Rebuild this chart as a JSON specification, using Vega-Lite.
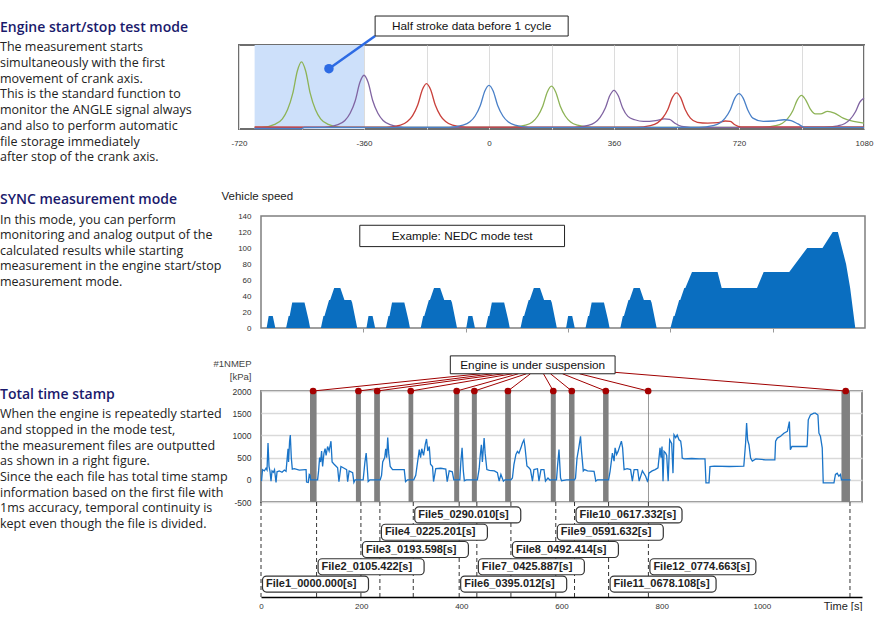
{
"$schema": "https://vega.github.io/schema/vega-lite/v6.json",
"padding": {"top": 14, "left": 0, "right": 0, "bottom": 0},
"spacing": 25,
"config": {"view": {"stroke": null}, "concat": {"spacing": 0}, "axis": {"labelFont": "Liberation Sans", "titleFont": "Liberation Sans", "labelOverlap": false, "labelFlush": false}},
"vconcat": [
{"hconcat": [
 {"width": 239, "height": 84,
  "data": {"values": [
   {"k": "h", "line": 0, "text": "Engine start/stop test mode"},
   {"k": "b", "line": 1, "text": "The measurement starts"},
   {"k": "b", "line": 2, "text": "simultaneously with the first"},
   {"k": "b", "line": 3, "text": "movement of crank axis."},
   {"k": "b", "line": 4, "text": "This is the standard function to"},
   {"k": "b", "line": 5, "text": "monitor the ANGLE signal always"},
   {"k": "b", "line": 6, "text": "and also to perform automatic"},
   {"k": "b", "line": 7, "text": "file storage immediately"},
   {"k": "b", "line": 8, "text": "after stop of the crank axis."}]},
  "encoding": {"x": {"value": 0}, "y": {"field": "line", "type": "quantitative", "scale": {"domain": [0.853, 6.203], "reverse": true, "zero": false, "nice": false}, "axis": null}, "text": {"field": "text", "type": "nominal"}},
  "layer": [
   {"transform": [{"filter": "datum.k == 'h'"}], "mark": {"type": "text", "align": "left", "baseline": "middle", "dy": -3.9, "font": "Open Sans", "fontSize": 14, "fontWeight": 600, "color": "#1a1a6c"}},
   {"transform": [{"filter": "datum.k == 'b'"}], "mark": {"type": "text", "align": "left", "baseline": "middle", "font": "Open Sans", "fontSize": 12.5, "color": "#222222"}}
  ]},
 {"width": 625, "height": 84,
  "view": {"stroke": "#6e6e6e", "strokeWidth": 2},
  "layer": [
   {"data": {"values": [{"x0": -675, "x1": -360, "y0": 0, "y1": 100}]},
    "mark": {"type": "rect", "color": "#cde0fa"},
    "encoding": {
     "x": {"field": "x0", "type": "quantitative", "scale": {"domain": [-720, 1080], "nice": false, "zero": false},
       "axis": {"values": [-720, -540, -360, -180, 0, 180, 360, 540, 720, 900, 1080], "tickCount": 30, "labelExpr": "datum.value % 360 === 0 ? '' + datum.value : ''", "labelOverlap": false, "grid": true, "gridColor": "#dcdcdc", "ticks": false, "domain": false, "labelFontSize": 8, "labelColor": "#333333", "labelPadding": 10, "title": null}},
     "x2": {"field": "x1"},
     "y": {"field": "y0", "type": "quantitative", "scale": {"domain": [0, 100], "nice": false, "zero": false}, "axis": null},
     "y2": {"field": "y1"}}},
   {"data": {"values": [
    {"c":"A","x":-675,"v":2},{"c":"A","x":-655,"v":2},{"c":"A","x":-615,"v":5.9},{"c":"A","x":-595,"v":12.1},{"c":"A","x":-580,"v":23.1},{"c":"A","x":-565,"v":42.6},{"c":"A","x":-552,"v":69.1},{"c":"A","x":-540,"v":80},{"c":"A","x":-528,"v":69.1},{"c":"A","x":-515,"v":42.6},{"c":"A","x":-500,"v":23.1},{"c":"A","x":-485,"v":12.1},{"c":"A","x":-465,"v":5.9},{"c":"A","x":-425,"v":2},{"c":"A","x":65,"v":2},{"c":"A","x":105,"v":4.5},{"c":"A","x":125,"v":8.4},{"c":"A","x":140,"v":15.2},{"c":"A","x":155,"v":27.5},{"c":"A","x":168,"v":44.1},{"c":"A","x":180,"v":51},{"c":"A","x":192,"v":44.1},{"c":"A","x":205,"v":27.5},{"c":"A","x":220,"v":15.2},{"c":"A","x":235,"v":8.4},{"c":"A","x":255,"v":4.5},{"c":"A","x":295,"v":2},{"c":"A","x":785,"v":2},{"c":"A","x":825,"v":3.9},{"c":"A","x":845,"v":6.9},{"c":"A","x":860,"v":12.3},{"c":"A","x":875,"v":21.8},{"c":"A","x":888,"v":34.7},{"c":"A","x":900,"v":40},{"c":"A","x":912,"v":34.7},{"c":"A","x":925,"v":24},{"c":"A","x":940,"v":18},{"c":"A","x":955,"v":18},{"c":"A","x":975,"v":21},{"c":"A","x":995,"v":19},{"c":"A","x":1020,"v":13},{"c":"A","x":1050,"v":9},{"c":"A","x":1080,"v":7},
    {"c":"B","x":-675,"v":1.5},{"c":"B","x":-475,"v":2},{"c":"B","x":-435,"v":5.1},{"c":"B","x":-415,"v":10.1},{"c":"B","x":-400,"v":18.7},{"c":"B","x":-385,"v":34},{"c":"B","x":-372,"v":55.3},{"c":"B","x":-360,"v":64},{"c":"B","x":-348,"v":55.3},{"c":"B","x":-335,"v":34},{"c":"B","x":-320,"v":18.7},{"c":"B","x":-305,"v":10.1},{"c":"B","x":-285,"v":5.1},{"c":"B","x":-245,"v":2},{"c":"B","x":245,"v":2},{"c":"B","x":285,"v":4.2},{"c":"B","x":305,"v":7.7},{"c":"B","x":320,"v":13.9},{"c":"B","x":335,"v":24.9},{"c":"B","x":348,"v":39.8},{"c":"B","x":360,"v":46},{"c":"B","x":372,"v":39.8},{"c":"B","x":385,"v":25},{"c":"B","x":400,"v":15},{"c":"B","x":420,"v":11},{"c":"B","x":445,"v":9},{"c":"B","x":480,"v":10},{"c":"B","x":505,"v":12},{"c":"B","x":520,"v":11.5},{"c":"B","x":535,"v":7},{"c":"B","x":555,"v":3},{"c":"B","x":580,"v":2},{"c":"B","x":965,"v":2},{"c":"B","x":1005,"v":3.8},{"c":"B","x":1025,"v":6.6},{"c":"B","x":1040,"v":11.5},{"c":"B","x":1055,"v":20.2},{"c":"B","x":1068,"v":32},{"c":"B","x":1080,"v":37},
    {"c":"C","x":-675,"v":2.5},{"c":"C","x":-295,"v":2.2},{"c":"C","x":-255,"v":4.6},{"c":"C","x":-235,"v":8.8},{"c":"C","x":-220,"v":16},{"c":"C","x":-205,"v":28.9},{"c":"C","x":-192,"v":46.7},{"c":"C","x":-180,"v":54},{"c":"C","x":-168,"v":46.7},{"c":"C","x":-155,"v":28.9},{"c":"C","x":-140,"v":16},{"c":"C","x":-125,"v":8.8},{"c":"C","x":-105,"v":4.6},{"c":"C","x":-65,"v":2.2},{"c":"C","x":425,"v":2.2},{"c":"C","x":465,"v":4.1},{"c":"C","x":485,"v":7.3},{"c":"C","x":500,"v":13.1},{"c":"C","x":515,"v":23.3},{"c":"C","x":528,"v":37.3},{"c":"C","x":540,"v":43},{"c":"C","x":552,"v":37.3},{"c":"C","x":565,"v":23.3},{"c":"C","x":580,"v":13},{"c":"C","x":600,"v":8},{"c":"C","x":630,"v":7},{"c":"C","x":660,"v":7.5},{"c":"C","x":680,"v":9.5},{"c":"C","x":695,"v":9},{"c":"C","x":708,"v":5},{"c":"C","x":725,"v":2.5},{"c":"C","x":1080,"v":2.5},
    {"c":"D","x":-675,"v":0.5},{"c":"D","x":-540,"v":0.5},{"c":"D","x":-532,"v":2},{"c":"D","x":-115,"v":2},{"c":"D","x":-75,"v":4.5},{"c":"D","x":-55,"v":8.5},{"c":"D","x":-40,"v":15.5},{"c":"D","x":-25,"v":28},{"c":"D","x":-12,"v":45.3},{"c":"D","x":0,"v":52},{"c":"D","x":12,"v":45.3},{"c":"D","x":25,"v":28},{"c":"D","x":40,"v":15.5},{"c":"D","x":55,"v":8.5},{"c":"D","x":75,"v":4.5},{"c":"D","x":115,"v":2},{"c":"D","x":605,"v":2},{"c":"D","x":645,"v":4},{"c":"D","x":665,"v":7.2},{"c":"D","x":680,"v":13},{"c":"D","x":695,"v":23},{"c":"D","x":708,"v":36.8},{"c":"D","x":720,"v":42},{"c":"D","x":732,"v":36.8},{"c":"D","x":745,"v":23},{"c":"D","x":760,"v":13},{"c":"D","x":790,"v":9},{"c":"D","x":820,"v":9.5},{"c":"D","x":850,"v":11},{"c":"D","x":870,"v":10},{"c":"D","x":890,"v":6},{"c":"D","x":910,"v":2},{"c":"D","x":1080,"v":2}]},
    "mark": {"type": "line", "interpolate": "monotone", "strokeWidth": 1.3},
    "encoding": {
     "x": {"field": "x", "type": "quantitative", "scale": {"domain": [-720, 1080], "nice": false, "zero": false}},
     "y": {"field": "v", "type": "quantitative", "scale": {"domain": [0, 100], "nice": false, "zero": false}, "axis": null},
     "color": {"field": "c", "type": "nominal", "scale": {"domain": ["A", "B", "C", "D"], "range": ["#8db356", "#8064a2", "#c9403b", "#4a80c8"]}, "legend": null}}},
   {"data": {"values": [{"x": -461, "v": 71.8}, {"x": -328, "v": 110.7}]},
    "mark": {"type": "line", "color": "#2d6be4", "strokeWidth": 2.5},
    "encoding": {
     "x": {"field": "x", "type": "quantitative", "scale": {"domain": [-720, 1080], "nice": false, "zero": false}},
     "y": {"field": "v", "type": "quantitative", "scale": {"domain": [0, 100], "nice": false, "zero": false}, "axis": null}}},
   {"data": {"values": [{"x": -461, "v": 71.8}]},
    "mark": {"type": "point", "filled": true, "opacity": 1, "size": 90, "color": "#2d6be4"},
    "encoding": {
     "x": {"field": "x", "type": "quantitative", "scale": {"domain": [-720, 1080], "nice": false, "zero": false}},
     "y": {"field": "v", "type": "quantitative", "scale": {"domain": [0, 100], "nice": false, "zero": false}, "axis": null}}},
   {"data": {"values": [{"x0": -328, "x1": 228, "y0": 110.7, "y1": 134.5}]},
    "mark": {"type": "rect", "fill": "#ffffff", "stroke": "#222222", "strokeWidth": 1},
    "encoding": {
     "x": {"field": "x0", "type": "quantitative", "scale": {"domain": [-720, 1080], "nice": false, "zero": false}},
     "x2": {"field": "x1"},
     "y": {"field": "y0", "type": "quantitative", "scale": {"domain": [0, 100], "nice": false, "zero": false}, "axis": null},
     "y2": {"field": "y1"}}},
   {"data": {"values": [{"xc": -50, "yc": 122.6, "label": "Half stroke data before 1 cycle"}]},
    "mark": {"type": "text", "font": "Liberation Sans", "fontSize": 11.8, "color": "#111111", "baseline": "middle"},
    "encoding": {
     "x": {"field": "xc", "type": "quantitative", "scale": {"domain": [-720, 1080], "nice": false, "zero": false}},
     "y": {"field": "yc", "type": "quantitative", "scale": {"domain": [0, 100], "nice": false, "zero": false}, "axis": null},
     "text": {"field": "label", "type": "nominal"}}}
  ]}
], "bounds": "flush", "spacing": 0},
{"concat": [
 {"width": 261, "height": 175,
  "data": {"values": [
   {"k": "h", "line": 0, "text": "SYNC measurement mode"},
   {"k": "b", "line": 1, "text": "In this mode, you can perform"},
   {"k": "b", "line": 2, "text": "monitoring and analog output of the"},
   {"k": "b", "line": 3, "text": "calculated results while starting"},
   {"k": "b", "line": 4, "text": "measurement in the engine start/stop"},
   {"k": "b", "line": 5, "text": "measurement mode."}]},
  "encoding": {"x": {"value": 0}, "y": {"field": "line", "type": "quantitative", "scale": {"domain": [0.755, 12.045], "reverse": true, "zero": false, "nice": false}, "axis": null}, "text": {"field": "text", "type": "nominal"}},
  "layer": [
   {"transform": [{"filter": "datum.k == 'h'"}], "mark": {"type": "text", "align": "left", "baseline": "middle", "dy": -4.6, "font": "Open Sans", "fontSize": 14, "fontWeight": 600, "color": "#1a1a6c"}},
   {"transform": [{"filter": "datum.k == 'b'"}], "mark": {"type": "text", "align": "left", "baseline": "middle", "font": "Open Sans", "fontSize": 12.5, "color": "#222222"}}
  ]},
 {"width": 604, "height": 112,
  "view": {"stroke": "#7f7f7f", "strokeWidth": 1.5},
  "layer": [
   {"data": {"values": [
    {"t":0,"v":0},{"t":11,"v":0},{"t":15,"v":15},{"t":23,"v":15},{"t":28,"v":0},{"t":49,"v":0},{"t":54,"v":15},{"t":56,"v":15},{"t":61,"v":32},{"t":85,"v":32},{"t":93,"v":10},{"t":96,"v":0},{"t":117,"v":0},{"t":122,"v":15},{"t":124,"v":15},{"t":133,"v":35},{"t":135,"v":35},{"t":143,"v":50},{"t":155,"v":50},{"t":163,"v":35},{"t":176,"v":35},{"t":178,"v":32},{"t":188,"v":0},{"t":195,"v":0},
    {"t":206,"v":0},{"t":210,"v":15},{"t":218,"v":15},{"t":223,"v":0},{"t":244,"v":0},{"t":249,"v":15},{"t":251,"v":15},{"t":256,"v":32},{"t":280,"v":32},{"t":288,"v":10},{"t":291,"v":0},{"t":312,"v":0},{"t":317,"v":15},{"t":319,"v":15},{"t":328,"v":35},{"t":330,"v":35},{"t":338,"v":50},{"t":350,"v":50},{"t":358,"v":35},{"t":371,"v":35},{"t":373,"v":32},{"t":383,"v":0},{"t":390,"v":0},
    {"t":401,"v":0},{"t":405,"v":15},{"t":413,"v":15},{"t":418,"v":0},{"t":439,"v":0},{"t":444,"v":15},{"t":446,"v":15},{"t":451,"v":32},{"t":475,"v":32},{"t":483,"v":10},{"t":486,"v":0},{"t":507,"v":0},{"t":512,"v":15},{"t":514,"v":15},{"t":523,"v":35},{"t":525,"v":35},{"t":533,"v":50},{"t":545,"v":50},{"t":553,"v":35},{"t":566,"v":35},{"t":568,"v":32},{"t":578,"v":0},{"t":585,"v":0},
    {"t":596,"v":0},{"t":600,"v":15},{"t":608,"v":15},{"t":613,"v":0},{"t":634,"v":0},{"t":639,"v":15},{"t":641,"v":15},{"t":646,"v":32},{"t":670,"v":32},{"t":678,"v":10},{"t":681,"v":0},{"t":702,"v":0},{"t":707,"v":15},{"t":709,"v":15},{"t":718,"v":35},{"t":720,"v":35},{"t":728,"v":50},{"t":740,"v":50},{"t":748,"v":35},{"t":761,"v":35},{"t":763,"v":32},{"t":773,"v":0},{"t":780,"v":0},
    {"t":800,"v":0},{"t":806,"v":15},{"t":808,"v":15},{"t":817,"v":35},{"t":819,"v":35},{"t":827,"v":50},{"t":829,"v":50},{"t":842,"v":70},{"t":892,"v":70},{"t":900,"v":50},{"t":969,"v":50},{"t":982,"v":70},{"t":1032,"v":70},{"t":1067,"v":100},{"t":1097,"v":100},{"t":1117,"v":120},{"t":1127,"v":120},{"t":1143,"v":80},{"t":1151,"v":50},{"t":1161,"v":0},{"t":1180,"v":0}]},
    "mark": {"type": "area", "color": "#0a6ec0", "opacity": 1},
    "encoding": {
     "x": {"field": "t", "type": "quantitative", "scale": {"domain": [0, 1180], "nice": false, "zero": false},
       "axis": {"values": [200, 400, 600, 800, 1000], "tickCount": 30, "labels": false, "domain": false, "grid": false, "ticks": true, "tickSize": 4, "tickColor": "#999999", "title": null}},
     "y": {"field": "v", "type": "quantitative", "scale": {"domain": [0, 140], "nice": false, "zero": false},
       "axis": {"values": [0, 20, 40, 60, 80, 100, 120, 140], "tickCount": 30, "labelOverlap": false, "grid": false, "domain": false, "ticks": false, "labelFontSize": 8, "labelPadding": 10, "labelColor": "#333333",
        "title": "Vehicle speed", "titleAngle": 0, "titleAlign": "left", "titleBaseline": "middle", "titleX": -40, "titleY": -20, "titleFontSize": 11.5, "titleFontWeight": "normal", "titleColor": "#222222"}}}},
   {"data": {"values": [{"x0": 193, "x1": 593, "y0": 101.75, "y1": 128.4}]},
    "mark": {"type": "rect", "fill": "#ffffff", "stroke": "#222222", "strokeWidth": 1},
    "encoding": {
     "x": {"field": "x0", "type": "quantitative", "scale": {"domain": [0, 1180], "nice": false, "zero": false}},
     "x2": {"field": "x1"},
     "y": {"field": "y0", "type": "quantitative", "scale": {"domain": [0, 140], "nice": false, "zero": false}},
     "y2": {"field": "y1"}}},
   {"data": {"values": [{"xc": 393, "yc": 115, "label": "Example: NEDC mode test"}]},
    "mark": {"type": "text", "font": "Liberation Sans", "fontSize": 11.8, "color": "#111111", "baseline": "middle"},
    "encoding": {
     "x": {"field": "xc", "type": "quantitative", "scale": {"domain": [0, 1180], "nice": false, "zero": false}},
     "y": {"field": "yc", "type": "quantitative", "scale": {"domain": [0, 140], "nice": false, "zero": false}},
     "text": {"field": "label", "type": "nominal"}}}
  ]},
 {"width": 260, "height": 111,
  "data": {"values": [
   {"k": "h", "line": 0, "text": "Total time stamp"},
   {"k": "b", "line": 1, "text": "When the engine is repeatedly started"},
   {"k": "b", "line": 2, "text": "and stopped in the mode test,"},
   {"k": "b", "line": 3, "text": "the measurement files are outputted"},
   {"k": "b", "line": 4, "text": "as shown in a right figure."},
   {"k": "b", "line": 5, "text": "Since the each file has total time stamp"},
   {"k": "b", "line": 6, "text": "information based on the first file with"},
   {"k": "b", "line": 7, "text": "1ms accuracy, temporal continuity is"},
   {"k": "b", "line": 8, "text": "kept even though the file is divided."}]},
  "encoding": {"x": {"value": 0}, "y": {"field": "line", "type": "quantitative", "scale": {"domain": [-0.487, 6.597], "reverse": true, "zero": false, "nice": false}, "axis": null}, "text": {"field": "text", "type": "nominal"}},
  "layer": [
   {"transform": [{"filter": "datum.k == 'h'"}], "mark": {"type": "text", "align": "left", "baseline": "middle", "dy": -3.6, "font": "Open Sans", "fontSize": 14, "fontWeight": 600, "color": "#1a1a6c"}},
   {"transform": [{"filter": "datum.k == 'b'"}], "mark": {"type": "text", "align": "left", "baseline": "middle", "font": "Open Sans", "fontSize": 12.5, "color": "#222222"}}
  ]},
 {"width": 601, "height": 111,
  "view": {"stroke": "#8c8c8c", "strokeWidth": 2},
  "layer": [
   {"data": {"values": [{"s":97.8,"e":111,"lo":-500,"hi":2000},{"s":189.5,"e":199.5,"lo":-500,"hi":2000},{"s":226,"e":237.4,"lo":-500,"hi":2000},{"s":294.6,"e":304,"lo":-500,"hi":2000},{"s":385.7,"e":395.7,"lo":-500,"hi":2000},{"s":421,"e":431,"lo":-500,"hi":2000},{"s":487.5,"e":499,"lo":-500,"hi":2000},{"s":578.6,"e":588.6,"lo":-500,"hi":2000},{"s":615,"e":626,"lo":-500,"hi":2000},{"s":683,"e":694,"lo":-500,"hi":2000},{"s":772.7,"e":774.3,"lo":-500,"hi":2000},{"s":1159,"e":1176,"lo":-500,"hi":2000}]},
    "mark": {"type": "rect", "color": "#808080", "opacity": 1},
    "encoding": {
     "x": {"field": "s", "type": "quantitative", "scale": {"domain": [0, 1200], "nice": false, "zero": false}, "axis": null},
     "x2": {"field": "e"},
     "y": {"field": "hi", "type": "quantitative", "scale": {"domain": [-500, 2000], "nice": false, "zero": false}},
     "y2": {"field": "lo"}}},
   {"data": {"values": [
    {"t":1,"p":-30},{"t":3,"p":230},{"t":6.7,"p":200},{"t":10,"p":260},{"t":12,"p":220},{"t":14,"p":830},{"t":16,"p":300},{"t":18,"p":190},{"t":20,"p":-30},{"t":22,"p":200},{"t":24.6,"p":170},{"t":27,"p":230},{"t":30,"p":-60},{"t":32,"p":180},{"t":36.6,"p":200},{"t":42,"p":170},{"t":46.6,"p":220},{"t":50,"p":190},{"t":52,"p":450},{"t":54,"p":700},{"t":55,"p":400},{"t":57,"p":850},{"t":58.5,"p":1010},{"t":60.5,"p":500},{"t":62.5,"p":240},{"t":66.5,"p":250},{"t":76.5,"p":220},{"t":88.5,"p":230},{"t":90,"p":230},{"t":91,"p":-50},{"t":94.4,"p":-60},{"t":96.4,"p":120},{"t":98,"p":100},{"t":99,"p":0},{"t":113,"p":0},
    {"t":115,"p":200},{"t":117,"p":500},{"t":119,"p":400},{"t":121,"p":650},{"t":123,"p":300},{"t":125.7,"p":600},{"t":128,"p":700},{"t":130,"p":550},{"t":133,"p":750},{"t":136,"p":650},{"t":139.7,"p":870},{"t":142,"p":400},{"t":146,"p":350},{"t":153,"p":270},{"t":155.6,"p":-40},{"t":159.6,"p":300},{"t":166,"p":260},{"t":171,"p":230},{"t":173,"p":-40},{"t":176,"p":200},{"t":183,"p":160},{"t":185.5,"p":-60},{"t":188,"p":0},{"t":200,"p":0},
    {"t":204,"p":0},{"t":207.5,"p":400},{"t":210,"p":600},{"t":212,"p":300},{"t":214,"p":-40},{"t":217.5,"p":0},{"t":238,"p":0},
    {"t":240.7,"p":100},{"t":243,"p":400},{"t":247,"p":500},{"t":249,"p":700},{"t":251,"p":500},{"t":253,"p":950},{"t":255,"p":600},{"t":258,"p":300},{"t":262.7,"p":230},{"t":272.7,"p":230},{"t":286,"p":230},{"t":288.6,"p":-40},{"t":292.6,"p":0},{"t":305,"p":0},
    {"t":309,"p":100},{"t":312.6,"p":400},{"t":316,"p":680},{"t":318.6,"p":500},{"t":321,"p":700},{"t":324.6,"p":550},{"t":328,"p":800},{"t":330.5,"p":920},{"t":333,"p":650},{"t":336,"p":750},{"t":338.5,"p":350},{"t":342.5,"p":300},{"t":344.5,"p":-40},{"t":349,"p":250},{"t":359,"p":260},{"t":369,"p":240},{"t":371.8,"p":-40},{"t":375.8,"p":200},{"t":382,"p":180},{"t":385,"p":0},{"t":396,"p":0},
    {"t":397,"p":0},{"t":399,"p":400},{"t":401.5,"p":720},{"t":404,"p":200},{"t":406,"p":-20},{"t":410,"p":0},{"t":431,"p":0},
    {"t":432,"p":0},{"t":435.6,"p":250},{"t":437.6,"p":530},{"t":440,"p":790},{"t":442,"p":400},{"t":445.5,"p":940},{"t":447.5,"p":600},{"t":451,"p":230},{"t":456,"p":210},{"t":466,"p":200},{"t":472,"p":160},{"t":475.5,"p":-30},{"t":479,"p":120},{"t":484,"p":-30},{"t":487,"p":0},{"t":499,"p":0},
    {"t":502,"p":40},{"t":505,"p":340},{"t":509,"p":570},{"t":512,"p":640},{"t":515,"p":600},{"t":519,"p":720},{"t":522,"p":830},{"t":525,"p":900},{"t":527,"p":750},{"t":531,"p":310},{"t":535,"p":270},{"t":538,"p":230},{"t":542,"p":-30},{"t":545,"p":230},{"t":552,"p":250},{"t":555,"p":-30},{"t":559,"p":230},{"t":565,"p":230},{"t":568,"p":-30},{"t":573,"p":40},{"t":577,"p":-10},{"t":579,"p":0},{"t":589,"p":0},
    {"t":590,"p":0},{"t":592,"p":300},{"t":595,"p":680},{"t":598,"p":50},{"t":600,"p":-20},{"t":610,"p":0},{"t":626,"p":0},
    {"t":628,"p":40},{"t":631,"p":490},{"t":634.5,"p":720},{"t":638,"p":980},{"t":640,"p":640},{"t":643.5,"p":200},{"t":646,"p":230},{"t":652,"p":200},{"t":665,"p":190},{"t":668.5,"p":-30},{"t":672,"p":0},{"t":694,"p":0},
    {"t":697,"p":190},{"t":701.6,"p":600},{"t":705,"p":420},{"t":707,"p":720},{"t":710,"p":570},{"t":713,"p":640},{"t":717,"p":780},{"t":719.6,"p":870},{"t":722,"p":720},{"t":725,"p":230},{"t":731,"p":250},{"t":738,"p":230},{"t":741.5,"p":-30},{"t":745,"p":230},{"t":752,"p":230},{"t":755,"p":-30},{"t":761.5,"p":200},{"t":768,"p":80},{"t":771.5,"p":-30},{"t":773,"p":0},
    {"t":774.5,"p":150},{"t":781,"p":200},{"t":787,"p":230},{"t":792.7,"p":270},{"t":796.7,"p":720},{"t":798.7,"p":500},{"t":800.7,"p":750},{"t":802.7,"p":-30},{"t":804.7,"p":640},{"t":808,"p":600},{"t":810,"p":550},{"t":813,"p":-30},{"t":816,"p":900},{"t":820,"p":820},{"t":822.6,"p":150},{"t":824.6,"p":1015},{"t":828,"p":950},{"t":831,"p":1010},{"t":834.6,"p":900},{"t":838,"p":870},{"t":840,"p":700},{"t":841,"p":490},{"t":845,"p":470},{"t":860,"p":480},{"t":875,"p":470},{"t":886.5,"p":470},{"t":888.5,"p":-70},{"t":894.5,"p":-70},{"t":896.5,"p":300},{"t":905,"p":310},{"t":935,"p":300},{"t":964,"p":310},{"t":967.6,"p":830},{"t":969.6,"p":1280},{"t":971.6,"p":900},{"t":974.3,"p":790},{"t":977.6,"p":490},{"t":981,"p":420},{"t":988,"p":470},{"t":1007,"p":450},{"t":1026,"p":450},{"t":1027.5,"p":870},{"t":1031,"p":940},{"t":1037.5,"p":980},{"t":1044,"p":1050},{"t":1051,"p":1090},{"t":1055,"p":1310},{"t":1057,"p":680},{"t":1060,"p":750},{"t":1071,"p":750},{"t":1090,"p":750},{"t":1090.6,"p":790},{"t":1092.7,"p":1350},{"t":1097,"p":1460},{"t":1104,"p":1500},{"t":1107,"p":1500},{"t":1112,"p":1460},{"t":1114,"p":1050},{"t":1117,"p":980},{"t":1120.6,"p":720},{"t":1122.6,"p":-70},{"t":1134,"p":-70},{"t":1144,"p":-70},{"t":1147,"p":120},{"t":1150.5,"p":150},{"t":1153.8,"p":80},{"t":1157,"p":120},{"t":1159,"p":0},{"t":1177,"p":0}]},
    "mark": {"type": "line", "color": "#1a74c8", "strokeWidth": 1.3},
    "encoding": {
     "x": {"field": "t", "type": "quantitative", "scale": {"domain": [0, 1200], "nice": false, "zero": false}, "axis": null},
     "y": {"field": "p", "type": "quantitative", "scale": {"domain": [-500, 2000], "nice": false, "zero": false},
       "axis": {"values": [-500, 0, 500, 1000, 1500, 2000], "tickCount": 30, "labelExpr": "'' + datum.value", "labelOverlap": false, "grid": true, "gridColor": "#d9d9d9", "gridWidth": 1.5, "domain": false, "ticks": false, "labelFontSize": 8.5, "labelColor": "#333333", "labelPadding": 10,
        "title": ["#1NMEP", "[kPa]"], "titleAngle": 0, "titleAlign": "right", "titleBaseline": "middle", "titleX": -10, "titleY": -28, "titleFontSize": 9.5, "titleLineHeight": 13.3, "titleFontWeight": "normal", "titleColor": "#444444"}}}},
   {"data": {"values": [{"t":104,"p":2000,"te":438,"pe":2388},{"t":194.5,"p":2000,"te":462,"pe":2388},{"t":232,"p":2000,"te":484,"pe":2388},{"t":299,"p":2000,"te":502,"pe":2388},{"t":390.7,"p":2000,"te":514,"pe":2388},{"t":426,"p":2000,"te":530,"pe":2388},{"t":493,"p":2000,"te":538,"pe":2388},{"t":583.6,"p":2000,"te":564,"pe":2388},{"t":620.5,"p":2000,"te":578,"pe":2388},{"t":688.5,"p":2000,"te":602,"pe":2388},{"t":773,"p":2000,"te":636,"pe":2388},{"t":1167.5,"p":2000,"te":707,"pe":2420}]},
    "mark": {"type": "rule", "color": "#a00000", "strokeWidth": 1},
    "encoding": {
     "x": {"field": "t", "type": "quantitative", "scale": {"domain": [0, 1200], "nice": false, "zero": false}, "axis": null},
     "x2": {"field": "te"},
     "y": {"field": "p", "type": "quantitative", "scale": {"domain": [-500, 2000], "nice": false, "zero": false}},
     "y2": {"field": "pe"}}},
   {"data": {"values": [{"t":104,"p":2000},{"t":194.5,"p":2000},{"t":232,"p":2000},{"t":299,"p":2000},{"t":390.7,"p":2000},{"t":426,"p":2000},{"t":493,"p":2000},{"t":583.6,"p":2000},{"t":620.5,"p":2000},{"t":688.5,"p":2000},{"t":773,"p":2000},{"t":1167.5,"p":2000}]},
    "mark": {"type": "point", "filled": true, "opacity": 1, "size": 45, "color": "#a50000"},
    "encoding": {
     "x": {"field": "t", "type": "quantitative", "scale": {"domain": [0, 1200], "nice": false, "zero": false}, "axis": null},
     "y": {"field": "p", "type": "quantitative", "scale": {"domain": [-500, 2000], "nice": false, "zero": false}}}},
   {"data": {"values": [{"x0": 378, "x1": 707, "y0": 2388, "y1": 2791}]},
    "mark": {"type": "rect", "fill": "#ffffff", "stroke": "#222222", "strokeWidth": 1},
    "encoding": {
     "x": {"field": "x0", "type": "quantitative", "scale": {"domain": [0, 1200], "nice": false, "zero": false}, "axis": null},
     "x2": {"field": "x1"},
     "y": {"field": "y0", "type": "quantitative", "scale": {"domain": [-500, 2000], "nice": false, "zero": false}},
     "y2": {"field": "y1"}}},
   {"data": {"values": [{"xc": 542.5, "yc": 2590, "label": "Engine is under suspension"}]},
    "mark": {"type": "text", "font": "Liberation Sans", "fontSize": 11.8, "color": "#111111", "baseline": "middle"},
    "encoding": {
     "x": {"field": "xc", "type": "quantitative", "scale": {"domain": [0, 1200], "nice": false, "zero": false}, "axis": null},
     "y": {"field": "yc", "type": "quantitative", "scale": {"domain": [-500, 2000], "nice": false, "zero": false}},
     "text": {"field": "label", "type": "nominal"}}}
  ]},
 {"width": 260, "height": 95, "data": {"values": []}, "mark": "text"},
 {"width": 601, "height": 95,
  "layer": [
   {"data": {"values": [{"t":0},{"t":111},{"t":199.5},{"t":237.4},{"t":304},{"t":395.7},{"t":431},{"t":499},{"t":588.6},{"t":626},{"t":694},{"t":773.5},{"t":1176}]},
    "mark": {"type": "rule", "color": "#333333", "strokeDash": [4, 3], "strokeWidth": 1},
    "encoding": {
     "x": {"field": "t", "type": "quantitative", "scale": {"domain": [0, 1200], "nice": false, "zero": false},
       "axis": {"values": [0, 200, 400, 600, 800, 1000], "tickCount": 30, "labelExpr": "'' + datum.value", "labelOverlap": false, "domain": true, "domainColor": "#000000", "domainWidth": 1.5, "ticks": false, "grid": false, "labelFontSize": 8, "labelPadding": 5, "labelColor": "#333333",
        "title": "Time [s]", "titleAlign": "right", "titleX": 601, "titleY": 9, "titleBaseline": "middle", "titleFontSize": 11, "titleFontWeight": "normal", "titleColor": "#222222"}}}},
   {"data": {"values": [
    {"f":"File1_0000.000[s]","t":0,"r":1},{"f":"File2_0105.422[s]","t":111,"r":2},{"f":"File3_0193.598[s]","t":199.5,"r":3},{"f":"File4_0225.201[s]","t":237.4,"r":4},{"f":"File5_0290.010[s]","t":304,"r":5},{"f":"File6_0395.012[s]","t":395.7,"r":1},{"f":"File7_0425.887[s]","t":431,"r":2},{"f":"File8_0492.414[s]","t":499,"r":3},{"f":"File9_0591.632[s]","t":588.6,"r":4},{"f":"File10_0617.332[s]","t":626,"r":5},{"f":"File11_0678.108[s]","t":694,"r":1},{"f":"File12_0774.663[s]","t":773.5,"r":2}]},
    "mark": {"type": "rect", "width": 106, "height": 16, "xOffset": 54.5, "cornerRadius": 4, "fill": "#ffffff", "stroke": "#333333", "strokeWidth": 1.2},
    "encoding": {
     "x": {"field": "t", "type": "quantitative", "scale": {"domain": [0, 1200], "nice": false, "zero": false}},
     "y": {"field": "r", "type": "quantitative", "scale": {"domain": [0.25, 5.75], "nice": false, "zero": false}, "axis": null}}},
   {"data": {"values": [
    {"f":"File1_0000.000[s]","t":0,"r":1},{"f":"File2_0105.422[s]","t":111,"r":2},{"f":"File3_0193.598[s]","t":199.5,"r":3},{"f":"File4_0225.201[s]","t":237.4,"r":4},{"f":"File5_0290.010[s]","t":304,"r":5},{"f":"File6_0395.012[s]","t":395.7,"r":1},{"f":"File7_0425.887[s]","t":431,"r":2},{"f":"File8_0492.414[s]","t":499,"r":3},{"f":"File9_0591.632[s]","t":588.6,"r":4},{"f":"File10_0617.332[s]","t":626,"r":5},{"f":"File11_0678.108[s]","t":694,"r":1},{"f":"File12_0774.663[s]","t":773.5,"r":2}]},
    "mark": {"type": "text", "align": "left", "baseline": "middle", "dx": 5, "font": "Liberation Sans", "fontSize": 11, "fontWeight": "bold", "color": "#222222"},
    "encoding": {
     "x": {"field": "t", "type": "quantitative", "scale": {"domain": [0, 1200], "nice": false, "zero": false}},
     "y": {"field": "r", "type": "quantitative", "scale": {"domain": [0.25, 5.75], "nice": false, "zero": false}, "axis": null},
     "text": {"field": "f", "type": "nominal"}}}
  ]}
], "columns": 2, "bounds": "flush", "spacing": 0, "align": "each"}
]
}
